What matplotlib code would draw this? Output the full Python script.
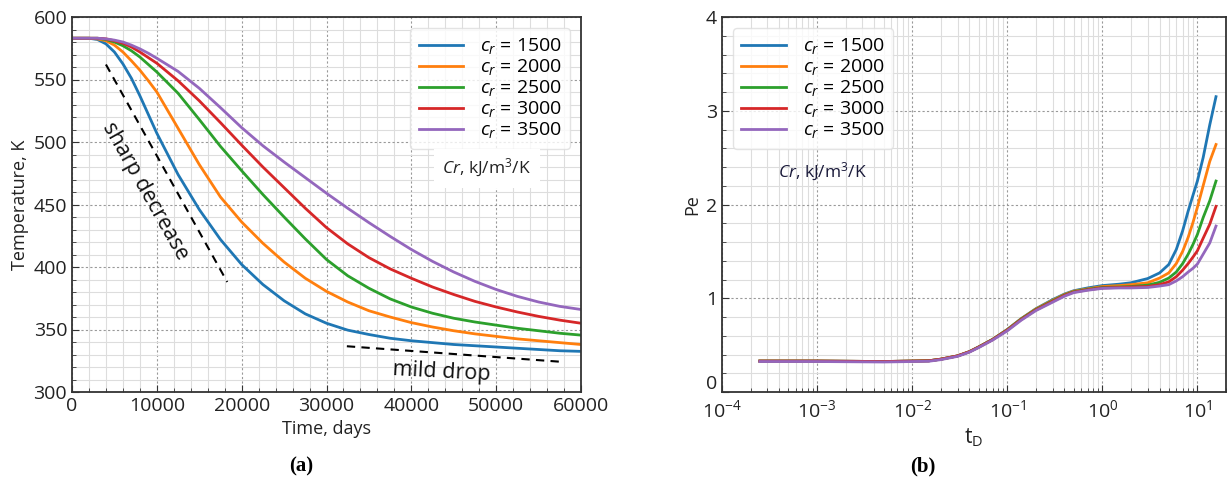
import numpy as np
import matplotlib
matplotlib.use("Agg")
import matplotlib.pyplot as plt
from matplotlib.ticker import MultipleLocator, LogLocator, NullFormatter, FuncFormatter

plt.rcParams['font.family'] = ['Open Sans', 'DejaVu Sans']
plt.rcParams['mathtext.fontset'] = 'custom'
plt.rcParams['mathtext.rm'] = 'Open Sans'
plt.rcParams['mathtext.it'] = 'Open Sans:italic'

# ---------------- data: panel (a) ----------------
time_days = [0, 1000, 2000, 3000, 4000, 5000, 6000, 7000, 8000, 9000, 10000,
             12500, 15000, 17500, 20000, 22500, 25000, 27500, 30000, 32500, 35000,
             37500, 40000, 42500, 45000, 47500, 50000, 52500, 55000, 57500, 60000]
T_1500 = [583, 583, 583, 582, 578.5, 572, 562.5, 551, 537, 522, 507,
          474, 446, 422, 402, 386, 373, 362.5, 355, 349.5, 346,
          343, 341, 339.5, 338, 337, 336, 335, 334, 333, 332.5]
T_2000 = [583, 583, 583, 582.5, 581, 577.5, 572, 565, 557.5, 549, 540,
          511, 482, 456, 436, 419, 404, 391, 380.5, 372, 365,
          360, 355.5, 352, 349, 346.5, 344.5, 342.5, 341, 339.5, 338]
T_2500 = [583, 583, 583, 583, 582, 580, 577, 573, 568, 562, 556,
          539, 518, 496.5, 477, 458, 440, 422.5, 406, 393, 383,
          374.5, 368, 363, 359, 356, 353.5, 351, 349, 347, 345.5]
T_3000 = [583, 583, 583, 583, 582.5, 581, 579, 576, 572, 567.5, 563,
          549, 533, 515.5, 497.5, 480, 463.5, 447, 431.5, 418.5, 407.5,
          398.5, 391, 384, 378, 372.5, 368, 364, 360.5, 357.5, 355]
T_3500 = [583, 583, 583, 583, 582.5, 581.5, 580, 577.5, 574.5, 571, 567,
          556.5, 543, 527.5, 511.5, 497, 484, 471.5, 459, 447, 435.5,
          424.5, 414, 404.5, 396, 388.5, 382, 376.5, 372, 368.5, 366]

# ---------------- data: panel (b) ----------------
t_D = [2.5e-4, 1e-3, 5e-3, 0.01, 0.015, 0.02, 0.03, 0.04, 0.05, 0.07, 0.1, 0.14,
       0.2, 0.3, 0.4, 0.5, 0.7, 1.0, 1.5, 2.0, 3.0, 4.0, 5.0, 6.0, 7.0, 8.0, 9.0,
       10.0, 11.5, 13.5, 15.7]
Pe_1500 = [0.33, 0.33, 0.325, 0.33, 0.333, 0.35, 0.385, 0.43, 0.48, 0.56, 0.667, 0.782,
           0.888, 0.985, 1.045, 1.08, 1.11, 1.135, 1.15, 1.165, 1.21, 1.27, 1.36, 1.52,
           1.72, 1.93, 2.10, 2.25, 2.50, 2.85, 3.15]
Pe_2000 = [0.33, 0.33, 0.325, 0.33, 0.333, 0.35, 0.385, 0.43, 0.48, 0.56, 0.665, 0.78,
           0.885, 0.978, 1.04, 1.075, 1.10, 1.125, 1.135, 1.145, 1.165, 1.215, 1.27, 1.37,
           1.50, 1.65, 1.81, 1.97, 2.20, 2.46, 2.64]
Pe_2500 = [0.33, 0.33, 0.325, 0.33, 0.333, 0.35, 0.385, 0.43, 0.48, 0.56, 0.662, 0.777,
           0.88, 0.972, 1.035, 1.07, 1.095, 1.115, 1.12, 1.125, 1.14, 1.17, 1.215, 1.28,
           1.37, 1.47, 1.575, 1.68, 1.86, 2.04, 2.25]
Pe_3000 = [0.33, 0.33, 0.325, 0.33, 0.333, 0.35, 0.385, 0.43, 0.478, 0.558, 0.659, 0.772,
           0.875, 0.966, 1.03, 1.065, 1.09, 1.11, 1.115, 1.12, 1.125, 1.145, 1.175, 1.23,
           1.30, 1.37, 1.44, 1.506, 1.64, 1.79, 1.98]
Pe_3500 = [0.325, 0.325, 0.32, 0.325, 0.328, 0.345, 0.38, 0.425, 0.473, 0.553, 0.652, 0.765,
           0.868, 0.958, 1.022, 1.06, 1.085, 1.105, 1.11, 1.11, 1.115, 1.13, 1.145, 1.185,
           1.23, 1.28, 1.32, 1.365, 1.47, 1.59, 1.77]

cr_values = [1500, 2000, 2500, 3000, 3500]
colors = ['#1f77b4', '#ff7f0e', '#2ca02c', '#d62728', '#9467bd']
labels = [r'$c_r$ = %d' % v for v in cr_values]

fig = plt.figure(figsize=(12.28, 4.83), dpi=100)
axL = fig.add_axes([72/1228, 1-392/483, 509/1228, 375/483])
axR = fig.add_axes([722/1228, 1-392/483, 504/1228, 375/483])

def style(ax):
    for s in ax.spines.values():
        s.set_color('#333333')
        s.set_linewidth(1.3)
    ax.grid(which='major', color='#999999', linestyle=(0, (2, 2)), linewidth=0.8)
    ax.grid(which='minor', color='#dddddd', linestyle='-', linewidth=0.8)
    ax.tick_params(which='both', direction='in', color='#333333', labelsize=14,
                   labelcolor='#222222')
    ax.tick_params(which='major', length=5)
    ax.tick_params(which='minor', length=3)
    ax.set_axisbelow(True)

leg_kw = dict(fontsize=14, handlelength=2.3, handletextpad=0.85, labelspacing=0.05,
              borderaxespad=0.55, borderpad=0.45)

# ---- panel (a)
for T, c, lab in zip([T_1500, T_2000, T_2500, T_3000, T_3500], colors, labels):
    axL.plot(time_days, T, color=c, lw=2.0, label=lab)
axL.set_xlim(0, 60000)
axL.set_ylim(300, 600)
axL.xaxis.set_major_locator(MultipleLocator(10000))
axL.xaxis.set_minor_locator(MultipleLocator(2000))
axL.yaxis.set_major_locator(MultipleLocator(50))
axL.yaxis.set_minor_locator(MultipleLocator(10))
style(axL)
axL.set_xlabel('Time, days', fontsize=13, color='#222222', labelpad=4)
axL.set_ylabel('Temperature, K', fontsize=13, color='#222222', labelpad=3)
leg = axL.legend(loc='upper right', **leg_kw)
leg.get_frame().set_edgecolor('#dddddd')
axL.text(0.815, 0.597, r'$Cr$, kJ/m$^3$/K', transform=axL.transAxes, fontsize=12.5,
         ha='center', va='center', color='#222222', zorder=10,
         bbox=dict(facecolor='white', edgecolor='none', pad=6))

# annotations
axL.plot([4000, 18300], [562, 388], color='black', lw=1.5, linestyle=(0, (4, 3)))
axL.plot([32400, 58000], [336.6, 324], color='black', lw=1.5, linestyle=(0, (4, 3)))
axL.text(8600, 461, 'sharp decrease', rotation=-60.5, fontsize=15.5, ha='center',
         va='center', color='#111111', rotation_mode='anchor')
axL.text(43600, 316, 'mild drop', rotation=-3, fontsize=15.5, ha='center', va='center',
         color='#111111')

# ---- panel (b)
for P, c, lab in zip([Pe_1500, Pe_2000, Pe_2500, Pe_3000, Pe_3500], colors, labels):
    axR.plot(t_D, P, color=c, lw=2.0, label=lab)
axR.set_xscale('log')
axR.set_xlim(1e-4, 20)
axR.set_ylim(0, 4)
axR.xaxis.set_major_locator(LogLocator(base=10, numticks=10))
axR.xaxis.set_minor_locator(LogLocator(base=10, subs=np.arange(2, 10), numticks=20))
axR.xaxis.set_minor_formatter(NullFormatter())
axR.yaxis.set_major_locator(MultipleLocator(1))
axR.yaxis.set_minor_locator(MultipleLocator(0.2))
axR.yaxis.set_major_formatter(FuncFormatter(lambda v, p: '' if v == 0 else '%d' % v))
style(axR)
axR.tick_params(axis='x', which='major', pad=5)
# "0" label placed just above the corner so it clears the 10^-4 label
axR.annotate('0', xy=(0, 0), xycoords='axes fraction', xytext=(-3.5, -1),
             textcoords='offset points', ha='right', va='bottom', fontsize=14,
             color='#222222')
axR.set_xlabel(r't$_\mathrm{D}$', fontsize=15, color='#222222', labelpad=4)
axR.set_ylabel('Pe', fontsize=13, color='#222222', labelpad=3)
leg2 = axR.legend(loc='upper left', **leg_kw)
leg2.get_frame().set_edgecolor('#dddddd')
axR.text(0.2, 0.587, r'$Cr$, kJ/m$^3$/K', transform=axR.transAxes, fontsize=12.5,
         ha='center', va='center', color='#1a1a3a', zorder=10)

# captions
fig.text(301/1228, 1-466/483, '(a)', fontsize=15, fontweight='bold',
         family=['Liberation Serif', 'DejaVu Serif'], ha='center', va='center')
fig.text(923/1228, 1-466/483, '(b)', fontsize=15, fontweight='bold',
         family=['Liberation Serif', 'DejaVu Serif'], ha='center', va='center')

fig.savefig('out.png', dpi=100)
